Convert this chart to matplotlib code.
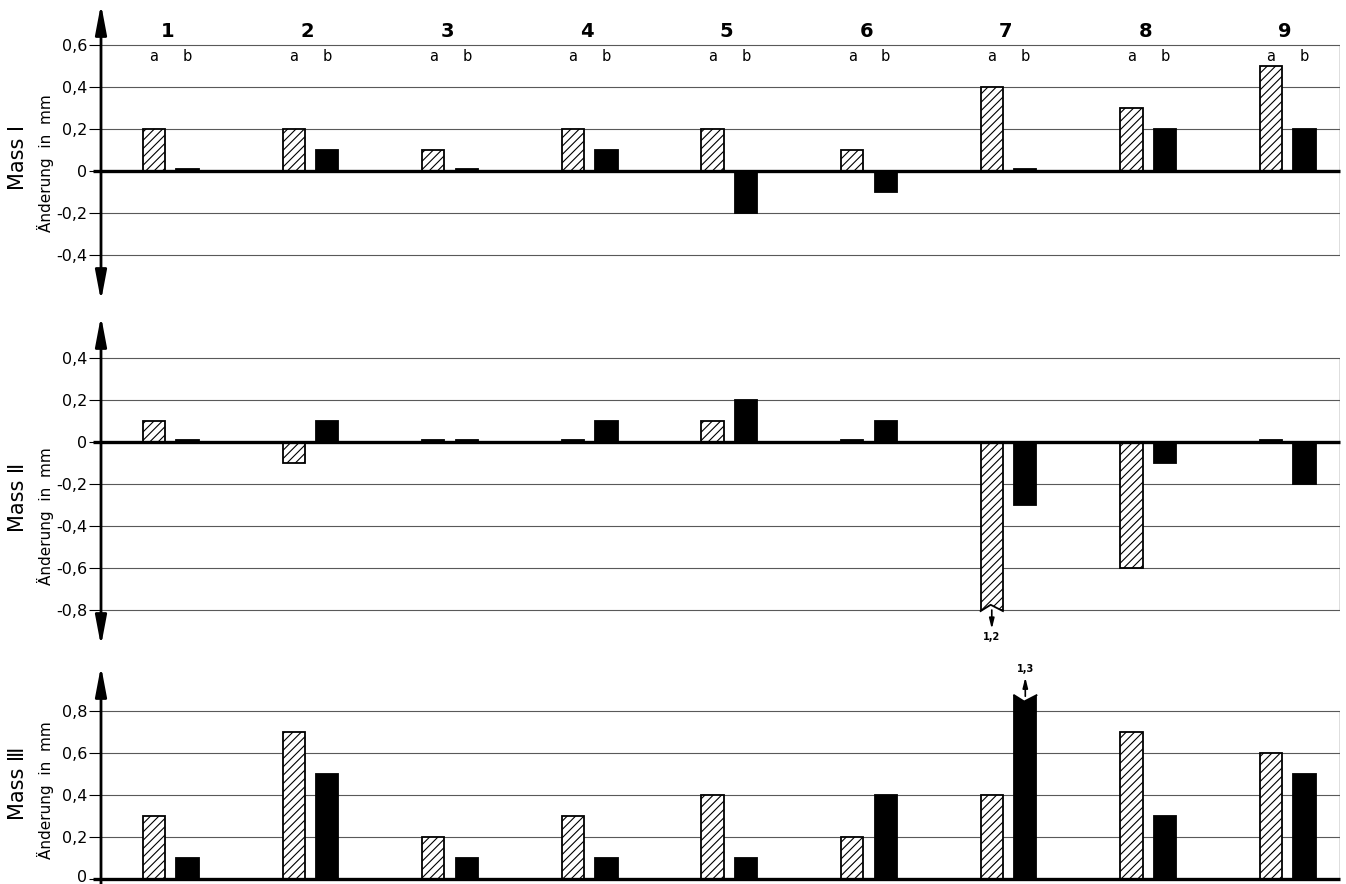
import matplotlib.pyplot as plt
from matplotlib.patches import Polygon
from matplotlib.transforms import ScaledTranslation

plt.rcParams['font.family'] = ['DejaVu Sans']
plt.rcParams['hatch.linewidth'] = 0.8

# Daten (Änderung in mm), a = schraffiert, b = schwarz
groups = [1, 2, 3, 4, 5, 6, 7, 8, 9]
mass1_a = [0.2, 0.2, 0.1, 0.2, 0.2, 0.1, 0.4, 0.3, 0.5]
mass1_b = [0.01, 0.1, 0.01, 0.1, -0.2, -0.1, 0.01, 0.2, 0.2]
mass2_a = [0.1, -0.1, 0.01, 0.01, 0.1, 0.01, -1.2, -0.6, 0.01]
mass2_b = [0.01, 0.1, 0.01, 0.1, 0.2, 0.1, -0.3, -0.1, -0.2]
mass3_a = [0.3, 0.7, 0.2, 0.3, 0.4, 0.2, 0.4, 0.7, 0.6]
mass3_b = [0.1, 0.5, 0.1, 0.1, 0.1, 0.4, 1.3, 0.3, 0.5]

panel_names = ['Mass Ⅰ', 'Mass Ⅱ', 'Mass Ⅲ']
panel_ticks = [[-0.4, -0.2, 0, 0.2, 0.4, 0.6],
               [-0.8, -0.6, -0.4, -0.2, 0, 0.2, 0.4],
               [0, 0.2, 0.4, 0.6, 0.8]]
panel_ylim = [(-0.6, 0.776), (-0.952, 0.58), (-0.024, 0.995)]
panel_clip = [None, -0.8, 0.87]
panel_data = [(mass1_a, mass1_b), (mass2_a, mass2_b), (mass3_a, mass3_b)]

W, H = 1346, 884
# Achsenpositionen in Pixeln (oben, unten)
panel_px = [(8, 297), (320, 642), (670, 884)]
left_px, right_px = 101, 1340
xlim = (0.52, 9.394)
off_a, off_b, bw = -0.10, 0.14, 0.16

fig = plt.figure(figsize=(W / 100, H / 100), dpi=100)

def fmt(t):
    if t == 0:
        return '0'
    return f'{t:.1f}'.replace('.', ',')

def notch(ax, bar, y_end, up):
    x0 = bar.get_x()
    w = bar.get_width()
    d = 0.025 if up else -0.025
    pts = [(x0, y_end + d * 0.2), (x0 + w * 0.45, y_end - d), (x0 + w, y_end + d * 0.2),
           (x0 + w, y_end + d * 2), (x0, y_end + d * 2)]
    ax.add_patch(Polygon(pts, closed=True, facecolor='white', edgecolor='none', zorder=4))
    ax.plot([x0, x0 + w * 0.45, x0 + w], [y_end + d * 0.2, y_end - d, y_end + d * 0.2],
            color='black', lw=1.3, zorder=5)

for i in range(3):
    top, bot = panel_px[i]
    hpx = bot - top
    ax = fig.add_axes([left_px / W, 1 - bot / H, (right_px - left_px) / W, hpx / H])
    ax.set_xlim(*xlim)
    ax.set_ylim(*panel_ylim[i])
    for s in ax.spines.values():
        s.set_visible(False)
    ticks = panel_ticks[i]
    ax.hlines([t for t in ticks if t != 0], xlim[0], xlim[1], color='0.35', lw=0.8, zorder=1)
    ax.hlines(0, xlim[0] - 0.06, xlim[1], color='black', lw=2.4, zorder=6, clip_on=False)
    ax.vlines(xlim[1], ticks[0], ticks[-1], color='0.35', lw=1.0, zorder=1)
    ax.set_yticks(ticks)
    ax.set_yticklabels([fmt(t) for t in ticks])
    ax.tick_params(axis='y', direction='out', length=9, width=0.8, pad=1, labelsize=11.5)
    ax.set_xticks([])
    if i == 2:
        lab = ax.get_yticklabels()[0]
        lab.set_transform(lab.get_transform() + ScaledTranslation(0, 3 / 100, fig.dpi_scale_trans))

    style = '<|-|>,head_length=0.9,head_width=0.17' if i < 2 else '-|>,head_length=0.9,head_width=0.17'
    y0 = -4 / hpx if i < 2 else 0
    ax.annotate('', xy=(0, 1 + 4 / hpx), xytext=(0, y0), xycoords='axes fraction',
                arrowprops=dict(arrowstyle=style, lw=2, color='black',
                                mutation_scale=20, shrinkA=0, shrinkB=0),
                annotation_clip=False, zorder=7)

    vals_a, vals_b = panel_data[i]
    clip = panel_clip[i]
    for g, va, vb in zip(groups, vals_a, vals_b):
        for v, off, hatched in [(va, off_a, True), (vb, off_b, False)]:
            shown = v
            broken = False
            if clip is not None and ((clip < 0 and v < clip) or (clip > 0 and v > clip)):
                shown = clip
                broken = True
            tiny = abs(v) < 0.05
            if hatched and not tiny:
                bar = ax.bar(g + off, shown, width=bw, facecolor='white', edgecolor='black',
                             hatch='////', lw=1.3, zorder=3)[0]
            else:
                bar = ax.bar(g + off, shown, width=bw, facecolor='black', edgecolor='black',
                             lw=1.3, zorder=3)[0]
            if broken:
                up = v > 0
                notch(ax, bar, shown, up)
                tip = shown + (0.09 if up else -0.09)
                ax.annotate('', xy=(g + off, tip), xytext=(g + off, shown),
                            arrowprops=dict(arrowstyle='-|>,head_length=0.6,head_width=0.15',
                                            lw=1.2, color='black', shrinkA=0, shrinkB=0),
                            annotation_clip=False, zorder=6)
                ax.text(g + off, tip + (0.015 if up else -0.015), f'{abs(v):.1f}'.replace('.', ','),
                        ha='center', va='bottom' if up else 'top', fontsize=7, fontweight='bold')

    if i == 0:
        for g in groups:
            ax.text(g, 0.665, str(g), ha='center', va='center', fontsize=14, fontweight='bold')
            ax.text(g + off_a, 0.545, 'a', ha='center', va='center', fontsize=10.5)
            ax.text(g + off_b, 0.545, 'b', ha='center', va='center', fontsize=10.5)

# Achsenbeschriftungen
name_y = [157, 497, 783]
unit_y = [163, 516, 790]
for i in range(3):
    fig.text(18 / W, 1 - name_y[i] / H, panel_names[i], rotation=90, ha='center', va='center',
             fontsize=15)
    fig.text(45 / W, 1 - unit_y[i] / H, 'Änderung  in  mm', rotation=90, ha='center', va='center',
             fontsize=11)

fig.savefig('out.png', dpi=100)
